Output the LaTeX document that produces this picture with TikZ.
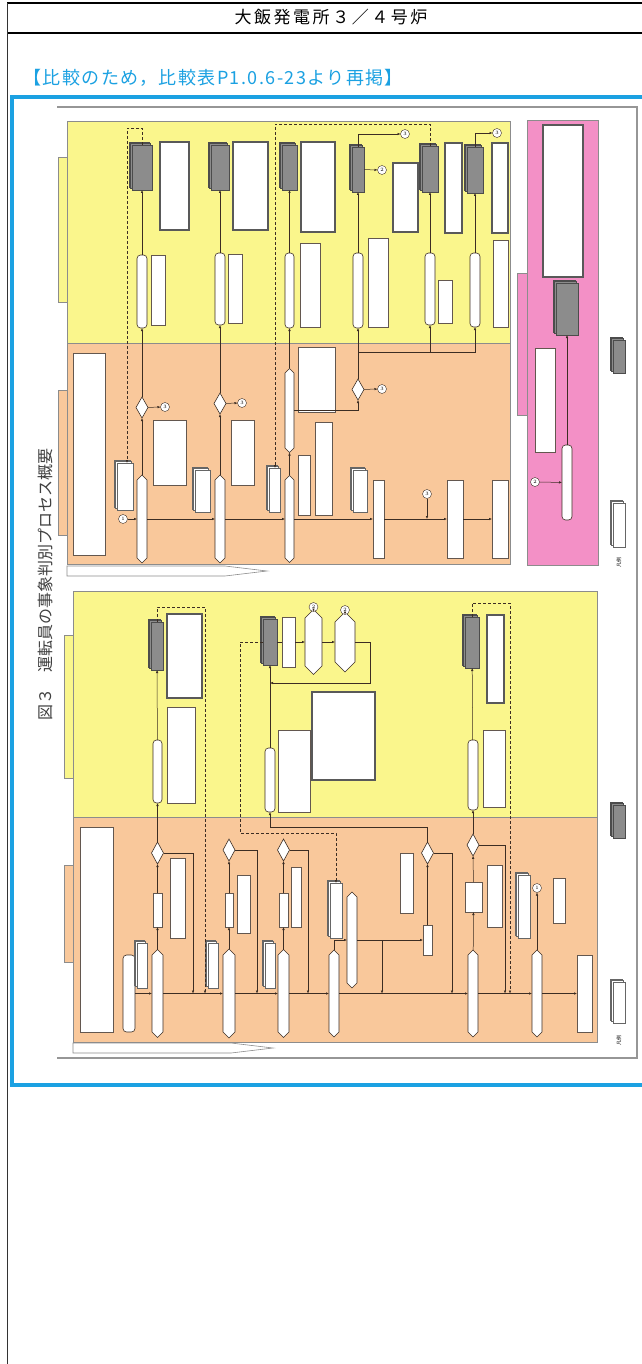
\documentclass[tikz,border=0pt]{standalone}
\usepackage{fontspec}
\newfontfamily\jp{Noto Sans CJK JP}
\newfontfamily\jpt{Noto Sans CJK JP}[LetterSpace=15]
\newfontfamily\jpb{Noto Sans CJK JP}[LetterSpace=8]
\usetikzlibrary{shapes.geometric,shapes.symbols,shadows,arrows.meta}
\definecolor{pyel}{RGB}{250,246,140}
\definecolor{pora}{RGB}{249,200,155}
\definecolor{ppink}{RGB}{243,144,198}
\definecolor{pblue}{RGB}{27,161,226}
\definecolor{pline}{RGB}{60,45,35}
\definecolor{pgrayd}{RGB}{140,140,140}
\definecolor{pframe}{RGB}{150,150,150}
\newcommand\B[6]{\node[#2,minimum width={#5-#3},minimum height={#6-#4}] (#1) at ({(#3+#5)/2},{(#4+#6)/2}) {};}
\tikzset{
 base/.style={inner sep=0pt,outer sep=0pt},
 pillv/.style={base,rectangle,rounded corners=3.5pt,draw=pline,fill=white,line width=0.6pt},
 wbox/.style={base,rectangle,draw=pline!80,fill=white,line width=0.5pt},
 tbox/.style={base,rectangle,draw=black!65,fill=white,line width=2pt},
 docg/.style={base,rectangle,draw=black!70,fill=pgrayd,line width=0.6pt,double copy shadow={shadow xshift=-1.5pt,shadow yshift=1.5pt}},
 docw/.style={base,rectangle,draw=black!60,fill=white,line width=0.5pt,double copy shadow={shadow xshift=-1.5pt,shadow yshift=1.5pt}},
 hexv/.style={base,signal,signal to=north and south,draw=pline,fill=white,line width=0.6pt},
 dia/.style={base,diamond,draw=pline,fill=white,line width=0.6pt},
 circ/.style={base,circle,draw=pline,fill=white,minimum size=9pt,font=\fontsize{5}{5}\selectfont},
 con/.style={draw=pline,line width=0.5pt},
 arr/.style={con,-{Latex[length=3pt,width=2.5pt]}},
 dsh/.style={con,densely dashed},
 dsharr/.style={dsh,-{Latex[length=3pt,width=2.5pt]}},
 panel/.style={draw=black!45,line width=0.6pt},
}
\begin{document}
\begin{tikzpicture}[x=1pt,y=-1pt]
\useasboundingbox (0,0) rectangle (641,1364);
\fill[white] (0,0) rectangle (641,1364);
% page header
\draw[black,line width=1.6pt] (7,3) -- (700,3);
\draw[black,line width=1.6pt] (7,33) -- (700,33);
\draw[black!80,line width=0.8pt] (7,3) -- (7,1400);
\node[font=\jpt\fontsize{17}{17}\selectfont] (title) at (331,17) {大飯発電所３／４号炉};
\node[font=\jpb\fontsize{18}{18}\selectfont,text=pblue,anchor=west] (cmp) at (20,78) {【比較のため，比較表P1.0.6-23より再掲】};
% blue frame
\draw[pblue,line width=4pt] (12,97) rectangle (700,1085);
% figure frame
\draw[pframe,line width=1.2pt] (57,107) -- (637,107) -- (637,1058) -- (57,1058);
\node[font=\jp\fontsize{16}{16}\selectfont,rotate=90,text=black!75] (cap) at (45,584) {図３　運転員の事象判別プロセス概要};

% ===== upper panels
\fill[pyel] (67,121) rectangle (510,343);
\fill[pora] (67,343) rectangle (510,564);
\draw[panel] (67,121) rectangle (510,564);
\draw[panel] (67,343) -- (510,343);
\draw[panel,fill=pyel] (58,157) rectangle (67,302);
\draw[panel,fill=pora] (58,390) rectangle (67,535);
\draw[panel,fill=white] (67,566) -- (225,566) -- (267,571) -- (225,576) -- (67,576) -- cycle;
% pink
\draw[panel,fill=ppink] (527,120) rectangle (598,565);
\draw[panel,fill=ppink] (517,273) rectangle (527,415);

% upper yellow nodes
\B{u1d}{docg}{132}{145}{152}{190}
\B{u1t}{tbox}{160}{142}{189}{230}
\B{u1p}{pillv}{137}{255}{147}{328}
\B{u1w}{wbox}{151}{255}{165}{325}
\B{u2d}{docg}{211}{145}{229}{190}
\B{u2t}{tbox}{233}{142}{268}{230}
\B{u2p}{pillv}{215}{253}{225}{325}
\B{u2w}{wbox}{228}{254}{242}{323}
\B{u3d}{docg}{282}{145}{297}{190}
\B{u3t}{tbox}{301}{142}{335}{232}
\B{u3p}{pillv}{285}{253}{294}{328}
\B{u3w}{wbox}{300}{243}{320}{327}
\B{u4d}{docg}{352}{147}{364}{192}
\B{u4t}{tbox}{393}{163}{418}{232}
\B{u4p}{pillv}{353}{253}{363}{328}
\B{u4w}{wbox}{368}{238}{388}{327}
\B{u5d}{docg}{422}{146}{438}{192}
\B{u5t}{tbox}{445}{143}{462}{233}
\B{u5p}{pillv}{425}{253}{435}{325}
\B{u5w}{wbox}{438}{280}{452}{323}
\B{u6d}{docg}{467}{147}{483}{193}
\B{u6t}{tbox}{492}{143}{508}{233}
\B{u6p}{pillv}{470}{253}{480}{327}
\B{u6w}{wbox}{493}{240}{508}{327}
\node[circ] (c3a) at (405,134) {3};
\node[circ] (c2a) at (382,170) {2};
\node[circ] (c3b) at (497,133) {3};

% upper orange nodes
\B{ob}{wbox}{73}{353}{105}{555}
\node[circ] (c1a) at (123,519) {1};
\B{od1}{docw}{117}{463}{133}{510}
\B{oh1}{hexv}{137}{480}{147}{558}
\B{odi1}{dia}{136}{397}{148}{418}
\node[circ] (c3c) at (165,407) {3};
\B{ow1}{wbox}{153}{420}{186}{485}
\B{oh2}{hexv}{215}{480}{225}{558}
\B{odi2}{dia}{214}{393}{226}{414}
\node[circ] (c3d) at (242,403) {3};
\B{ow2}{wbox}{231}{420}{254}{485}
\B{od2}{docw}{195}{470}{210}{512}
\B{oh3a}{hexv}{285}{373}{294}{448}
\B{oh3b}{hexv}{285}{480}{294}{558}
\B{od3}{docw}{269}{468}{280}{512}
\B{ow3a}{wbox}{298}{455}{310}{515}
\B{ow3b}{wbox}{315}{422}{332}{515}
\B{ow3c}{wbox}{298}{347}{335}{412}
\B{odi3}{dia}{352}{379}{364}{400}
\node[circ] (c3e) at (382,389) {3};
\B{od4}{docw}{353}{470}{367}{512}
\B{ow4}{wbox}{373}{480}{384}{558}
\node[circ] (c3f) at (427,494) {3};
\B{ow5}{wbox}{447}{480}{463}{558}
\B{ow6}{wbox}{492}{480}{508}{558}

% pink nodes
\B{pkt}{tbox}{543}{125}{583}{277}
\B{pkd}{docg}{556}{283}{578}{335}
\B{pkw}{wbox}{535}{348}{555}{452}
\B{pkp}{pillv}{562}{445}{572}{520}
\node[circ] (c2b) at (535,482) {2};

% upper connectors
\draw[arr] (c1a) -- (oh1);
\draw[arr] (oh1) -- (oh2);
\draw[arr] (oh2) -- (oh3b);
\draw[arr] (oh3b) -- (ow4);
\draw[arr] (ow4) -- (ow5);
\draw[arr] (ow5) -- (ow6);
\draw[arr] (c3f) -- (c3f |- ow4.center);
\draw[arr] (oh1) -- (odi1);
\draw[arr] (odi1) -- (u1p);
\draw[arr] (u1p) -- (u1d);
\draw[arr] (odi1) -- (c3c);
\draw[arr] (oh2) -- (odi2);
\draw[arr] (odi2) -- (u2p);
\draw[arr] (u2p) -- (u2d);
\draw[arr] (odi2) -- (c3d);
\draw[arr] (oh3b) -- (oh3a);
\draw[arr] (oh3a) -- (u3p);
\draw[arr] (u3p) -- (u3d);
\draw[arr] (oh3a.east) -| (odi3.south);
\coordinate (j1) at (358,352);
\draw[arr] (odi3) -- (u4p);
\draw[arr] (j1) -| (u5p);
\draw[arr] (j1) -| (u6p);
\draw[arr] (odi3) -- (c3e);
\draw[arr] (u4p) -- (u4d);
\draw[arr] (u5p) -- (u5d);
\draw[arr] (u6p) -- (u6d);
\draw[arr] (u4d) -- (c2a);
\draw[arr] (u4d.north) |- (c3a);
\draw[arr] (u6d.north) |- (c3b);
\coordinate (k1) at (127,128);
\draw[dsharr] (u1d.north) |- (k1) -- (k1 |- od1.north);
\coordinate (k2) at (275,124);
\draw[dsharr] (u5d.north) |- (k2) -- (k2 |- od3.north);
\draw[arr] (pkp) -- (pkd);
\draw[arr] (c2b) -- (pkp);

% ===== lower panels
\fill[pyel] (73,591) rectangle (597,817);
\fill[pora] (73,817) rectangle (597,1042);
\draw[panel] (73,591) rectangle (597,1042);
\draw[panel] (73,817) -- (597,817);
\draw[panel,fill=pyel] (64,635) rectangle (73,778);
\draw[panel,fill=pora] (64,865) rectangle (73,962);
\draw[panel,fill=white] (73,1043) -- (231,1043) -- (273,1048) -- (231,1053) -- (73,1053) -- cycle;

% lower yellow nodes
\B{ld1}{docg}{151}{622}{163}{670}
\B{lt1}{tbox}{167}{614}{202}{698}
\B{lp1}{pillv}{153}{740}{162}{803}
\B{lw1}{wbox}{167}{707}{195}{803}
\B{ld2}{docg}{263}{619}{277}{665}
\B{lw2s}{wbox}{282}{617}{295}{667}
\B{lh2}{hexv}{305}{618}{322}{666}
\node[circ] (c2c) at (313.5,607) {2};
\B{lh3}{hexv}{335}{622}{355}{662}
\node[circ] (c2d) at (345,610) {2};
\B{lp2}{pillv}{265}{748}{275}{812}
\B{lw2}{wbox}{278}{730}{310}{812}
\B{lt2}{tbox}{312}{692}{375}{780}
\B{ld5}{docg}{465}{617}{479}{668}
\B{lt5}{tbox}{487}{615}{504}{703}
\B{lp5}{pillv}{468}{740}{478}{810}
\B{lw5}{wbox}{483}{730}{505}{807}

% lower orange nodes
\B{lob}{wbox}{80}{827}{113}{1032}
\B{lp0}{pillv}{123}{955}{135}{1032}
\B{lo1}{hexv}{152}{955}{163}{1032}
\B{lod1}{docw}{137}{943}{147}{988}
\B{los1}{wbox}{153}{893}{162}{927}
\B{ldia1}{dia}{151.5}{842}{163.5}{864}
\B{low1}{wbox}{170}{858}{185}{938}
\B{lo2}{hexv}{223}{955}{235}{1032}
\B{lod2}{docw}{208}{943}{218}{988}
\B{los2}{wbox}{225}{893}{233}{927}
\B{ldia2}{dia}{223}{839}{235}{861}
\B{low2}{wbox}{237}{875}{250}{933}
\B{lo3}{hexv}{278}{955}{289}{1032}
\B{lod3}{docw}{265}{943}{275}{988}
\B{los3}{wbox}{279}{893}{288}{927}
\B{ldia3}{dia}{277.5}{839}{289.5}{861}
\B{low3}{wbox}{291}{867}{301}{927}
\B{lod4}{docw}{330}{883}{342}{938}
\B{lo4}{hexv}{329}{955}{339}{1032}
\B{lo4b}{hexv}{347}{897}{357}{983}
\B{low4a}{wbox}{400}{853}{413}{913}
\B{los4}{wbox}{423}{925}{432}{955}
\B{ldia4}{dia}{421.5}{842}{433.5}{864}
\B{lo5}{hexv}{468}{955}{478}{1032}
\B{los5}{wbox}{465}{882}{482}{912}
\B{ldia5}{dia}{467}{834}{479}{856}
\B{low5}{wbox}{487}{865}{502}{927}
\node[circ] (c1b) at (537,888) {1};
\B{lod6}{docw}{518}{875}{530}{938}
\B{lo6}{hexv}{532}{955}{542}{1032}
\B{low6}{wbox}{553}{878}{565}{923}
\B{lfin}{wbox}{577}{955}{592}{1032}

% lower connectors
\draw[arr] (lp0) -- (lo1);
\draw[arr] (lo1) -- (lo2);
\draw[arr] (lo2) -- (lo3);
\draw[arr] (lo3) -- (lo4);
\draw[arr] (lo4) -- (lo5);
\draw[arr] (lo5) -- (lo6);
\draw[arr] (lo6) -- (lfin);
\draw[arr] (lo1) -- (los1);
\draw[arr] (los1) -- (ldia1);
\draw[arr] (ldia1) -- (lp1);
\draw[arr] (lp1) -- (ld1);
\coordinate (m1) at (193,993.5);
\draw[arr] (ldia1.east) -| (m1);
\coordinate (k3) at (205,607);
\draw[dsharr] (ld1.north) |- (k3) -- (k3 |- lp0.center);
\draw[arr] (lo2) -- (los2);
\draw[arr] (los2) -- (ldia2);
\coordinate (m2) at (257,993.5);
\draw[arr] (ldia2.east) -| (m2);
\draw[arr] (lo3) -- (los3);
\draw[arr] (los3) -- (ldia3);
\coordinate (m3) at (308,993.5);
\draw[arr] (ldia3.east) -| (m3);
\draw[arr] (lp2) -- (ld2);
\draw[con] (ld2) -- (lw2s);
\draw[arr] (lw2s) -- (lh2);
\draw[arr] (lh2) -- (lh3);
\draw[arr] (lh2) -- (c2c);
\draw[arr] (lh3) -- (c2d);
\coordinate (m4) at (370,683);
\draw[arr] (lh3.east) -| (m4) -- (m4 -| ld2);
\coordinate (k4) at (240,833);
\draw[dsharr] (ld2.west) -| (k4) -| (lod4.north);
\coordinate (m5) at (270,827);
\draw[arr] (ldia4.north) |- (m5) -- (lp2.south);
\draw[arr] (lo4.north) |- (lo4b.west);
\coordinate (m6) at (382,993.5);
\draw[arr] (lo4b.east) -| (m6);
\draw[arr] (lo4b.east) -- (los4.west);
\draw[arr] (los4) -- (ldia4);
\coordinate (m7) at (452,993.5);
\draw[arr] (ldia4.east) -| (m7);
\draw[arr] (lo5) -- (los5);
\draw[arr] (los5) -- (ldia5);
\draw[arr] (ldia5) -- (lp5);
\draw[arr] (lp5) -- (ld5);
\coordinate (m8) at (505,993.5);
\draw[arr] (ldia5.east) -| (m8);
\coordinate (k5) at (510,603);
\draw[dsharr] (ld5.north) |- (k5) -- (k5 |- lp0.center);
\draw[arr] (lo6) -- (c1b);

% legend
\B{lgu1}{docg}{613}{340}{625}{373}
\B{lgu2}{docw}{613}{503}{625}{547}
\B{lgl1}{docg}{613}{805}{625}{838}
\B{lgl2}{docw}{613}{982}{625}{1023}
\node[font=\jp\fontsize{5}{5}\selectfont,rotate=90] (lgt1) at (619,562) {凡例};
\node[font=\jp\fontsize{5}{5}\selectfont,rotate=90] (lgt2) at (619,1040) {凡例};
\end{tikzpicture}
\end{document}
